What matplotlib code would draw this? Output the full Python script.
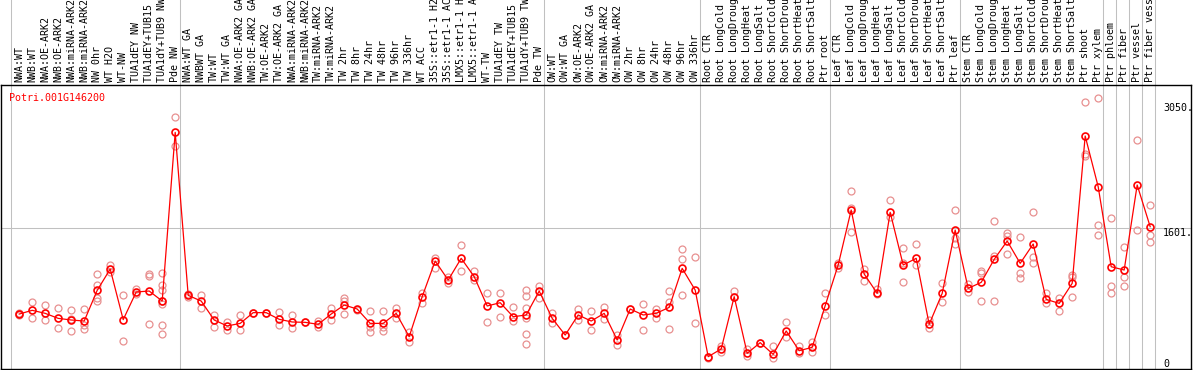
import matplotlib.pyplot as plt
import matplotlib.transforms as mtransforms

gene = "Potri.001G146200"

samples = [
    "NWA:WT", "NWB:WT", "NWA:OE-ARK2", "NWB:OE-ARK2", "NWA:miRNA-ARK2",
    "NWB:miRNA-ARK2", "NW 0hr", "WT H2O", "WT-NW", "TUA1dEY NW",
    "TUA1dEY+TUB15 NW", "TUA1dY+TUB9 NW", "Pde NW",
    "NWA:WT GA", "NWBWT GA", "TW:WT", "TW:WT GA", "NWA:OE-ARK2 GA",
    "NWB:OE-ARK2 GA", "TW:OE-ARK2", "TW:OE-ARK2 GA", "NWA:miRNA-ARK2",
    "NWB:miRNA-ARK2", "TW:miRNA-ARK2", "TW:miRNA-ARK2", "TW 2hr", "TW 8hr",
    "TW 24hr", "TW 48hr", "TW 96hr", "TW 336hr", "WT ACC",
    "35S::etr1-1 H2O", "35S::etr1-1 ACC", "LMX5::etr1-1 H2O",
    "LMX5::etr1-1 ACC", "WT-TW", "TUA1dEY TW", "TUA1dEY+TUB15 TW",
    "TUA1dY+TUB9 TW", "Pde TW",
    "OW:WT", "OW:WT GA", "OW:OE-ARK2", "OW:OE-ARK2 GA", "OW:miRNA-ARK2",
    "OW:miRNA-ARK2", "OW 2hr", "OW 8hr", "OW 24hr", "OW 48hr", "OW 96hr",
    "OW 336hr",
    "Root CTR", "Root LongCold", "Root LongDrought", "Root LongHeat",
    "Root LongSalt", "Root ShortCold", "Root ShortDrought", "Root ShortHeat",
    "Root ShortSalt", "Ptr root",
    "Leaf CTR", "Leaf LongCold", "Leaf LongDrought", "Leaf LongHeat",
    "Leaf LongSalt", "Leaf ShortCold", "Leaf ShortDrought", "Leaf ShortHeat",
    "Leaf ShortSalt", "Ptr leaf",
    "Stem CTR", "Stem LongCold", "Stem LongDrought", "Stem LongHeat",
    "Stem LongSalt", "Stem ShortCold", "Stem ShortDrought", "Stem ShortHeat",
    "Stem ShortSalt", "Ptr shoot", "Ptr xylem",
    "Ptr phloem", "Ptr fiber", "Ptr vessel", "Ptr fiber vessel",
]

# first sample index of each group (last entry = end)
group_starts = [0, 13, 41, 53, 63, 73, 84, 85, 86, 87, 88]

means = [
    609, 652, 617, 559, 540, 528, 883, 1129, 544, 864, 875, 759, 2709,
    825, 759, 540, 471, 501, 625, 625, 548, 517, 513, 490, 609, 713, 667,
    501, 501, 617, 347, 810, 1222, 1002, 1253, 1041, 702, 740, 578, 598, 875,
    559, 366, 598, 528, 617, 309, 667, 598, 617, 686, 1137, 886,
    116, 205, 810, 155, 278, 143, 413, 185, 224, 706,
    1176, 1812, 1072, 848, 1785, 1176, 1253, 490, 848, 1580,
    906, 975, 1241, 1453, 1195, 1419, 779, 732, 964, 2667, 2081,
    1156, 1118, 2101, 1619,
]

replicates = [
    [625, 609, 598], [748, 567], [713, 544], [675, 444], [656, 548, 409],
    [663, 478, 432], [1068, 944, 790, 763], [1180, 1099], [825, 293],
    [902, 840], [1068, 1049, 490], [1079, 944, 886, 759, 721, 478, 374],
    [2883, 2547],
    [840, 802], [829, 675], [598, 455], [513, 424], [598, 424], [625], [625],
    [636, 482], [598, 444], [513], [532, 463], [675, 540], [790, 763, 609],
    [655], [644, 455, 397], [644, 455, 416], [675, 567], [397, 282],
    [848, 732], [1260, 1137], [1041, 964], [1407, 1106], [1106, 1002],
    [848, 513], [848, 571], [686, 532], [886, 817, 675, 559, 378, 258],
    [937, 790],
    [625, 509], [366], [667, 540], [644, 424], [686, 548], [366, 251], [667],
    [721, 424], [667, 567], [875, 752, 436], [1361, 1241, 829], [1264, 509],
    [116, 97], [243, 166], [875, 810], [201, 128], [278], [239, 105],
    [513, 339], [243, 155], [282, 166], [848, 598],
    [1195, 1137], [2031, 1831, 1561], [1126, 995], [899, 837], [1927, 1735],
    [1368, 1195, 983], [1419, 1176], [540, 444], [964, 744],
    [1812, 1484, 1418],
    [952, 867], [1106, 1087, 759], [1684, 1284, 759], [1542, 1515, 1303],
    [1496, 1079, 1022], [1785, 1272, 1195], [856, 732], [790, 644],
    [1060, 1041, 802], [3056, 2459, 2439], [3102, 1638, 1518],
    [1715, 929, 848], [1380, 1041, 933], [2621, 1580], [1869, 1522, 1445],
]

ytick_values = [3050, 1601, 0]
ytick_labels = ["3050.", "1601.", "0"]

mono = "DejaVu Sans Mono"
fsize = 7.2
grey = "#c0c0c0"

fig = plt.figure(figsize=(11.94, 3.70), dpi=100)
ax = fig.add_axes([1 / 1194, 1.3 / 370, 1190 / 1194, 283.7 / 370])
ax.set_xlim(-1.4, 90.14)
ax.set_ylim(-23, 3257)
ax.set_xticks([])
ax.set_yticks([])
for s in ax.spines.values():
    s.set_color("black")
    s.set_linewidth(1.0)

# group separators run up through the label area
for k in group_starts:
    ax.axvline(k - 0.654, ymin=0, ymax=1.31, color=grey, lw=0.75,
               clip_on=False, zorder=1)
ax.axhline(1601, color=grey, lw=0.75, zorder=1)

x = list(range(len(samples)))

# replicate values
for i, reps in enumerate(replicates):
    ax.plot([i] * len(reps), reps, "o", ms=5, mfc="none", mec="#e89090",
            mew=0.9, zorder=2)

# mean line
ax.plot(x, means, "-", color="red", lw=0.9, zorder=3)
ax.plot(x, means, "o", ms=5, mfc="none", mec="red", mew=1.2, zorder=4)

# sample labels on top
for i, name in enumerate(samples):
    ax.annotate(name, xy=(i, 1.0), xycoords=("data", "axes fraction"),
                xytext=(0, 2.2), textcoords="offset points",
                rotation=90, ha="center", va="bottom",
                fontsize=fsize, family=mono, annotation_clip=False)

ax.text(-0.76, 3075, gene, color="red", fontsize=fsize, family=mono,
        ha="left", va="baseline")

# value labels at the right
for v, lab in zip(ytick_values, ytick_labels):
    ax.text(88.0, v, lab, fontsize=fsize, family=mono, ha="left",
            va="baseline" if v == 0 else "top")

fig.savefig("out.png", dpi=100)
